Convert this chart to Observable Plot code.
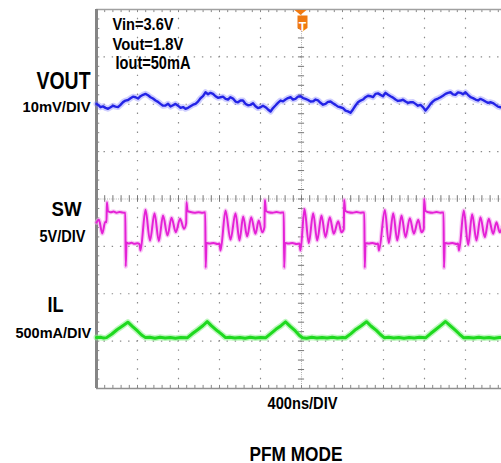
<!DOCTYPE html>
<html><head><meta charset="utf-8">
<script src="https://cdn.jsdelivr.net/npm/d3@7"></script>
<script src="https://cdn.jsdelivr.net/npm/@observablehq/plot@0.6"></script>
<style>html,body{margin:0;padding:0;overflow:hidden;background:#fff}</style>
</head><body><div id="chart"></div>
<script>
// ---- data (time in ns, relative to trigger) ----
const vout = [[-2000,0.08],[-1980,-0.2],[-1961,-0.63],[-1936,-0.45],[-1912,-0.76],[-1888,-0.95],[-1863,-0.63],[-1839,-0.3],[-1815,-0.49],[-1790,-0.6],[-1766,-0.13],[-1741,0.45],[-1717,0.78],[-1692,0.9],[-1668,1.27],[-1644,1.6],[-1619,1.48],[-1595,1.2],[-1571,1.69],[-1546,2.0],[-1522,2.19],[-1497,1.9],[-1473,1.48],[-1449,1.2],[-1424,0.78],[-1400,0.5],[-1376,0.08],[-1351,-0.3],[-1327,-0.27],[-1302,0.1],[-1278,-0.49],[-1254,-0.2],[-1229,0.08],[-1205,-0.3],[-1180,-0.76],[-1156,-0.6],[-1132,-0.97],[-1107,-0.75],[-1083,-0.42],[-1058,-0.1],[-1034,0.08],[-1010,0.55],[-985,1.27],[-961,1.7],[-937,2.53],[-912,2.1],[-888,2.41],[-863,2.2],[-839,1.69],[-815,1.35],[-790,1.48],[-766,1.6],[-741,1.14],[-717,1.0],[-693,1.48],[-668,1.2],[-644,0.57],[-620,0.4],[-595,0.78],[-571,0.8],[-546,0.08],[-522,-0.2],[-498,-0.13],[-473,0.2],[-449,-0.42],[-425,-0.8],[-400,-0.63],[-376,-0.3],[-351,-0.63],[-327,-1.1],[-302,-1.54],[-278,-0.8],[-254,-0.27],[-230,0.3],[-205,0.78],[-180,0.6],[-156,0.99],[-132,1.3],[-107,1.48],[-83,1.0],[-59,1.14],[-35,1.6],[-10,1.69],[15,1.3],[39,1.14],[64,0.9],[88,0.57],[112,0.6],[137,0.99],[161,0.8],[185,0.3],[210,-0.1],[234,0.08],[258,0.5],[283,0.57],[307,0.2],[332,-0.13],[356,-0.5],[380,-0.63],[405,-0.8],[429,-1.33],[453,-1.5],[478,-1.81],[502,-1.1],[527,-0.27],[551,0.4],[576,0.78],[600,1.0],[624,1.48],[649,1.8],[673,1.69],[697,1.5],[722,2.19],[746,2.3],[771,1.98],[795,1.7],[820,2.41],[844,2.0],[868,1.69],[893,1.4],[917,0.99],[941,0.7],[966,0.78],[990,0.95],[1015,0.57],[1039,0.3],[1063,0.42],[1088,0.45],[1112,0.08],[1136,-0.3],[1161,-0.13],[1185,-0.6],[1210,-1.33],[1234,-0.7],[1259,0.08],[1283,0.6],[1307,0.99],[1332,1.2],[1356,1.48],[1380,1.8],[1405,2.19],[1429,2.4],[1454,2.53],[1478,2.1],[1502,1.98],[1527,2.5],[1551,2.41],[1575,2.1],[1600,2.53],[1624,2.0],[1649,1.48],[1673,1.3],[1698,0.99],[1722,0.8],[1746,1.14],[1770,0.9],[1795,0.57],[1820,0.3],[1844,0.42],[1868,0.25],[1893,-0.13],[1917,-0.5],[1941,-0.63],[1970,-0.65],[2000,-0.9]]; // mV

const sw = [[-2000,2.27],[-1976,2.55],[-1944,1.11],[-1914,2.35],[-1902,2.3],[-1899,4.41],[-1888,3.45],[-1863,3.35],[-1834,3.42],[-1805,3.30],[-1776,3.38],[-1746,3.32],[-1719,3.30],[-1715,-2.37],[-1707,0.15],[-1688,0.05],[-1658,0.12],[-1629,0.02],[-1600,0.08],[-1581,0.0],[-1571,-0.69],[-1522,3.61],[-1478,0.35],[-1434,3.25],[-1392,0.3],[-1351,3.0],[-1307,0.9],[-1268,2.76],[-1226,1.24],[-1185,2.66],[-1146,1.6],[-1125,2.2],[-1122,4.41],[-1112,3.5],[-1083,3.38],[-1044,3.30],[-1005,3.36],[-966,3.30],[-939,3.34],[-935,-2.51],[-927,0.1],[-898,0.05],[-858,0.1],[-819,0.0],[-800,0.05],[-790,-0.69],[-741,3.53],[-693,0.44],[-644,3.25],[-605,0.37],[-569,2.9],[-530,0.79],[-491,2.83],[-449,1.08],[-417,2.48],[-383,1.24],[-361,1.8],[-358,4.66],[-346,3.5],[-322,3.35],[-283,3.3],[-244,3.38],[-205,3.3],[-173,3.33],[-169,-2.51],[-161,0.1],[-127,0.05],[-88,0.1],[-49,0.0],[-20,0.05],[-10,-0.69],[29,3.69],[71,0.1],[114,3.25],[153,0.37],[195,3.0],[234,0.72],[276,2.83],[315,1.08],[358,2.4],[390,1.24],[413,1.6],[416,4.66],[427,3.5],[459,3.35],[498,3.3],[537,3.38],[576,3.3],[613,3.33],[617,-2.51],[624,0.1],[654,0.05],[693,0.1],[732,0.0],[746,0.05],[756,-0.69],[813,3.6],[852,0.1],[895,3.25],[934,0.37],[976,3.0],[1015,0.72],[1057,2.73],[1096,1.08],[1139,2.55],[1171,1.24],[1193,1.6],[1196,4.76],[1208,3.5],[1239,3.35],[1278,3.3],[1317,3.38],[1356,3.3],[1386,3.33],[1390,-2.51],[1398,0.1],[1434,0.05],[1473,0.1],[1512,0.0],[1527,0.05],[1537,-0.69],[1583,3.53],[1626,-0.1],[1665,3.15],[1707,0.37],[1746,2.83],[1788,0.72],[1827,2.66],[1870,1.08],[1902,2.3],[1934,1.24],[1980,2.2],[2000,2.0]]; // V

const il = [[-2000,3],[-1961,6],[-1930,-3],[-1902,2],[-1850,40],[-1800,85],[-1750,122],[-1694,165],[-1650,120],[-1600,72],[-1560,30],[-1522,2],[-1480,6],[-1430,-4],[-1380,6],[-1330,-2],[-1280,4],[-1230,-5],[-1180,3],[-1115,0],[-1060,48],[-1010,88],[-960,130],[-920,170],[-880,128],[-830,82],[-780,38],[-741,2],[-700,6],[-650,-3],[-600,4],[-550,-4],[-500,5],[-450,-2],[-400,3],[-351,0],[-300,45],[-250,90],[-200,128],[-156,168],[-110,120],[-60,72],[-20,25],[10,0],[50,-4],[100,5],[150,-2],[200,4],[250,-3],[300,5],[350,-2],[400,3],[429,0],[480,42],[530,88],[580,125],[634,170],[680,122],[730,78],[770,35],[810,0],[850,5],[900,-3],[950,4],[1000,-4],[1050,3],[1100,-2],[1150,5],[1210,0],[1260,45],[1310,88],[1360,132],[1405,172],[1450,128],[1500,80],[1540,40],[1583,0],[1630,4],[1680,-3],[1730,5],[1780,-2],[1830,4],[1880,-4],[1930,3],[2000,0]]; // mA

const channelNames = ["VOUT", "SW", "IL"];
const channelScaleLabels = ["10mV/DIV", "5V/DIV", "500mA/DIV"];
const conditions = ["Vin=3.6V", "Vout=1.8V", "Iout=50mA"];
const timebaseLabel = "400ns/DIV";
const title = "PFM MODE";
const triggerTime = [0];

// ---- display setup (scope divisions) ----
const perDiv = {vout: 10, sw: 5, il: 500};
const offsetDiv = {vout: 2.0, sw: -0.95, il: -2.93};
const font = "'Liberation Sans', Arial, sans-serif";

const majorX = d3.range(-2000, 2000.1, 400);
const majorY = d3.range(-4, 4.01, 1);
const minorX = d3.range(-2000, 2000.1, 80);
const minorY = d3.range(-4, 4.01, 0.2);

const labelLayout = [
  [channelNames[0], -60, 79, 23, 54],
  [channelScaleLabels[0], -74, 102.7, 14, 68],
  [channelNames[1], -45, 206, 20, 30],
  [channelScaleLabels[1], -57, 232.7, 16, 46],
  [channelNames[2], -49, 302, 22, 16],
  [channelScaleLabels[2], -81, 328.3, 15, 75.7],
  [conditions[0], 16, 20.3, 17, 61],
  [conditions[1], 16, 40, 17, 71],
  [conditions[2], 19, 59, 18, 75],
  [timebaseLabel, 171, 399.3, 17, 70],
  [title, 153, 451, 19.5, 93]
];

const triggerBox = {draw(ctx) { ctx.moveTo(-5,-7.5); ctx.lineTo(5,-7.5); ctx.lineTo(5,5); ctx.lineTo(0,8.5); ctx.lineTo(-5,5); ctx.closePath(); }};
const triggerArrow = {draw(ctx) { ctx.moveTo(-6,0); ctx.lineTo(6,0); ctx.lineTo(0,5); ctx.closePath(); }};

const gridColor = "#8a8a8a";
const marks = [
  // dotted graticule
  Plot.ruleX(majorX.filter(d => d !== 0 && Math.abs(d) !== 2000), {x: d => d, stroke: gridColor, strokeWidth: 1.2, strokeDasharray: "1.4,8.075", strokeDashoffset: 0.7}),
  Plot.ruleY(majorY.filter(d => d !== 0 && Math.abs(d) !== 4), {y: d => d, stroke: gridColor, strokeWidth: 1.2, strokeDasharray: "1.4,6.8", strokeDashoffset: 0.7}),
  // center lines
  Plot.ruleX([0], {x: d => d, stroke: "#b0b0b0", strokeWidth: 1, strokeDasharray: "1,1.2"}),
  Plot.ruleY([0], {y: d => d, stroke: "#b0b0b0", strokeWidth: 1, strokeDasharray: "1,1.2"}),
  Plot.ruleX(minorX, {x: d => d, y1: -0.07, y2: 0.07, stroke: "#777", strokeWidth: 1}),
  Plot.ruleY(minorY, {y: d => d, x1: -30, x2: 30, stroke: "#777", strokeWidth: 1}),
  // edge ticks
  Plot.ruleX(minorX, {x: d => d, y1: 4, y2: 3.935, stroke: "#888", strokeWidth: 1}),
  Plot.ruleX(minorX, {x: d => d, y1: -4, y2: -3.935, stroke: "#888", strokeWidth: 1}),
  Plot.ruleY(minorY, {y: d => d, x1: -2000, x2: -1968, stroke: "#888", strokeWidth: 1}),
  // frame
  Plot.ruleY([4], {y: d => d, stroke: "#a0a0a0", strokeWidth: 1.6}),
  Plot.ruleY([-4], {y: d => d, stroke: "#909090", strokeWidth: 1.6}),
  Plot.ruleX([-2000], {x: d => d, stroke: "#858585", strokeWidth: 3}),
  Plot.ruleX([2000], {x: d => d, stroke: "#858585", strokeWidth: 3}),
  // traces
  Plot.line(vout, {x: d => d[0], y: d => offsetDiv.vout + d[1] / perDiv.vout, stroke: "#7474ff", strokeWidth: 6, strokeOpacity: 0.35}),
  Plot.line(vout, {x: d => d[0], y: d => offsetDiv.vout + d[1] / perDiv.vout, stroke: "#2323e6", strokeWidth: 2.4}),
  Plot.line(sw, {x: d => d[0], y: d => offsetDiv.sw + d[1] / perDiv.sw, curve: "monotone-x", stroke: "#f4a6ee", strokeWidth: 4.5, strokeOpacity: 0.6}),
  Plot.line(sw, {x: d => d[0], y: d => offsetDiv.sw + d[1] / perDiv.sw, curve: "monotone-x", stroke: "#e421d6", strokeWidth: 2}),
  Plot.line(il, {x: d => d[0], y: d => offsetDiv.il + d[1] / perDiv.il, stroke: "#86f086", strokeWidth: 6, strokeOpacity: 0.55}),
  Plot.line(il, {x: d => d[0], y: d => offsetDiv.il + d[1] / perDiv.il, stroke: "#1fd91f", strokeWidth: 3}),
  // trigger marker
  Plot.dot(triggerTime, {x: d => d, frameAnchor: "top", dx: -1, dy: 0.5, symbol: triggerArrow, fill: "#f07a12", stroke: "none"}),
  Plot.dot(triggerTime, {x: d => d, frameAnchor: "top", dx: 1, dy: 13.5, symbol: triggerBox, fill: "#f07a12", stroke: "none"}),
  Plot.text(triggerTime, {x: d => d, text: () => "T", frameAnchor: "top", dx: 1, dy: 12.5, fill: "#fff", fontSize: 12, fontWeight: "bold", fontFamily: font}),
  // labels
  ...labelLayout.map(([t, dx, dy, fs]) => Plot.text([t], {text: d => d, frameAnchor: "top-left", dx, dy, textAnchor: "start", lineAnchor: "bottom", fontSize: fs, fontWeight: "bold", fill: "#000", fontFamily: font}))
];

const chart = Plot.plot({
  width: 511, height: 463,
  marginLeft: 96, marginRight: 5, marginTop: 9, marginBottom: 75,
  x: {domain: [-2000, 2000], axis: null},
  y: {domain: [-4, 4], axis: null},
  style: {background: "#fff", overflow: "visible", maxWidth: "none"},
  marks
});
chart.style.maxWidth = "none";
const lengths = new Map(labelLayout.map(d => [d[0], d[4]]));
chart.querySelectorAll("text").forEach(el => {
  const L = lengths.get(el.textContent);
  if (L) { el.setAttribute("textLength", L); el.setAttribute("lengthAdjust", "spacingAndGlyphs"); }
});
document.getElementById("chart").appendChild(chart);
</script></body></html>
